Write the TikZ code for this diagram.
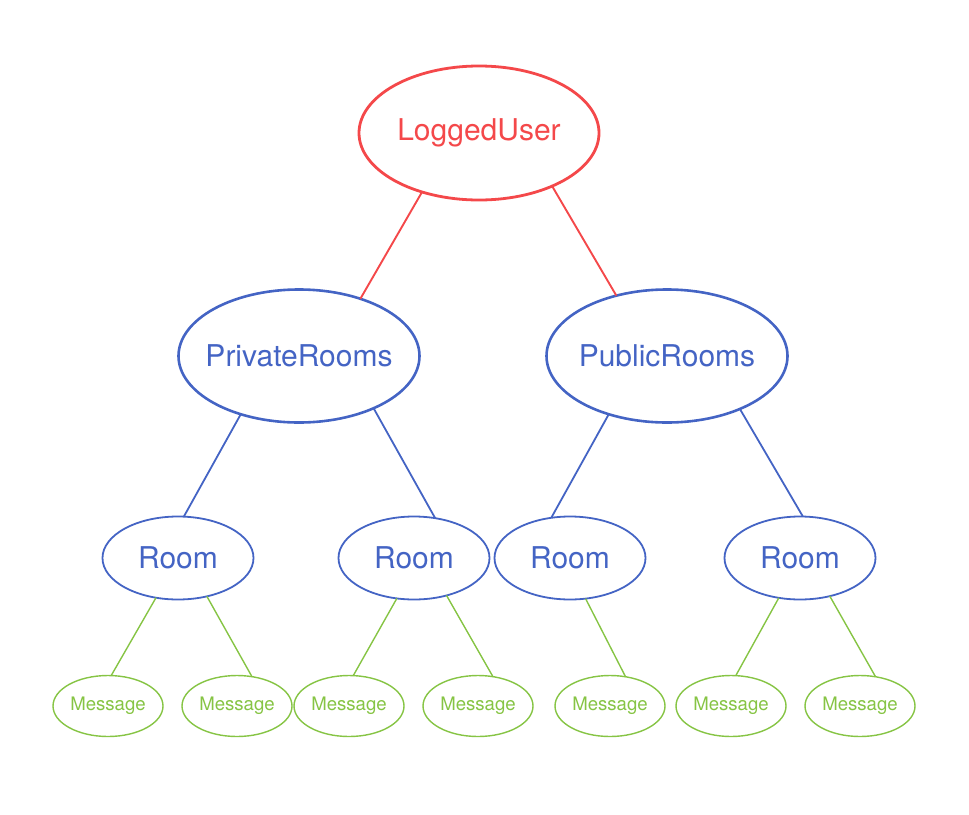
\documentclass[tikz,border=0pt]{standalone}
\usepackage{fontspec}
\setmainfont{TeX Gyre Heros}
\usetikzlibrary{shapes.geometric}
\definecolor{userred}{RGB}{244,72,74}
\definecolor{roomblue}{RGB}{68,100,196}
\definecolor{msggreen}{RGB}{134,196,68}
\tikzset{
  usernode/.style={draw=userred,text=userred,ellipse,line width=2.8pt,minimum width=240pt,minimum height=134pt,inner sep=0pt,outer sep=0pt,font=\fontsize{30}{32}\selectfont},
  groupnode/.style={draw=roomblue,text=roomblue,ellipse,line width=2.6pt,minimum width=241pt,minimum height=133pt,inner sep=0pt,inner xsep=-20pt,outer sep=0pt,font=\fontsize{30}{32}\selectfont},
  roomnode/.style={draw=roomblue,text=roomblue,ellipse,line width=1.8pt,minimum width=151pt,minimum height=83pt,inner sep=0pt,outer sep=0pt,font=\fontsize{30}{32}\selectfont},
  msgnode/.style={draw=msggreen,text=msggreen,ellipse,line width=1.4pt,minimum width=110pt,minimum height=61pt,inner sep=0pt,outer sep=0pt,font=\fontsize{18.6}{20}\selectfont},
  usertie/.style={draw=userred,line width=1.9pt},
  roomtie/.style={draw=roomblue,line width=1.8pt},
  msgtie/.style={draw=msggreen,line width=1.4pt}
}
\begin{document}
\begin{tikzpicture}[x=1pt,y=-1pt]
    \useasboundingbox (0,0) rectangle (969,814);
    \node[usernode] (user) at (479,133) {LoggedUser};
    \node[groupnode] (private) at (299,356) {PrivateRooms};
    \node[groupnode] (public) at (667,356) {PublicRooms};
    \node[roomnode] (room1) at (178,558) {Room};
    \node[roomnode] (room2) at (414,558) {Room};
    \node[roomnode] (room3) at (570,558) {Room};
    \node[roomnode] (room4) at (800,558) {Room};
    \node[msgnode] (msg1) at (108,706) {Message};
    \node[msgnode] (msg2) at (237,706) {Message};
    \node[msgnode] (msg3) at (349,706) {Message};
    \node[msgnode] (msg4) at (478,706) {Message};
    \node[msgnode] (msg5) at (610,706) {Message};
    \node[msgnode] (msg6) at (731,706) {Message};
    \node[msgnode] (msg7) at (860,706) {Message};
    \draw[usertie] (user.226) -- (private.43);
    \draw[usertie] (user.324) -- (public.130);
    \draw[roomtie] (private.225) -- (room1.82);
    \draw[roomtie] (private.325) -- (room2.62);
    \draw[roomtie] (public.225) -- (room3.115);
    \draw[roomtie] (public.324) -- (room4.86);
    \draw[msgtie] (room1.241) -- (msg1.84);
    \draw[msgtie] (room1.307) -- (msg2.63);
    \draw[msgtie] (room2.247) -- (msg3.82);
    \draw[msgtie] (room2.311) -- (msg4.63);
    \draw[msgtie] (room3.291) -- (msg5.62);
    \draw[msgtie] (room4.242) -- (msg6.81);
    \draw[msgtie] (room4.308) -- (msg7.62);
  \end{tikzpicture}
\end{document}
